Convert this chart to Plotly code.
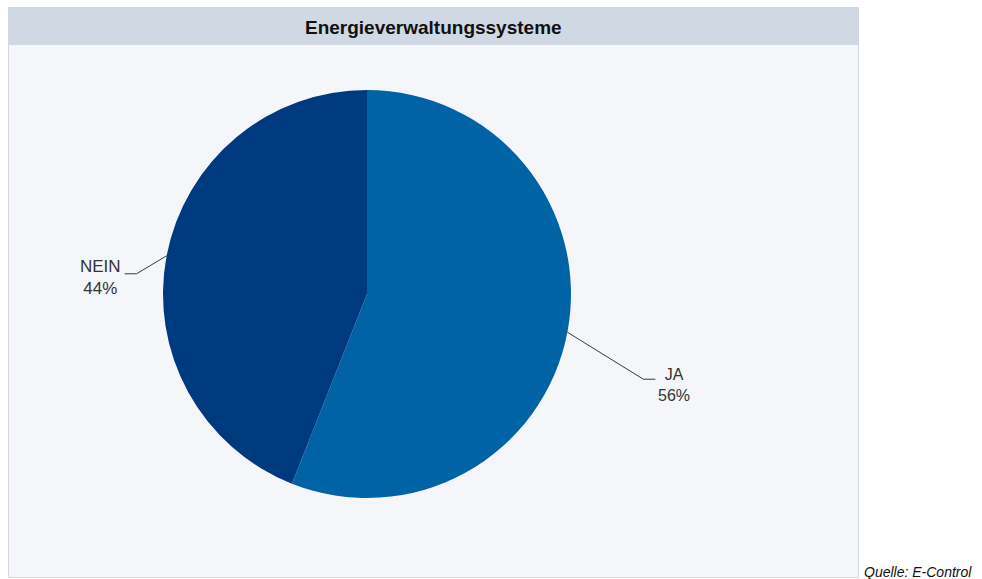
import math
import plotly.graph_objects as go

# Survey result: share of companies with an energy management system
categories = ["JA", "NEIN"]
shares = [56, 44]
colors = ["#0063A6", "#003A7E"]

W, H = 982, 579
CX, CY, R = 367, 294, 204  # pie centre and radius in pixels

fig = go.Figure()

fig.add_trace(go.Pie(
    labels=categories,
    values=shares,
    sort=False,
    direction="clockwise",
    rotation=0,
    marker=dict(colors=colors, line=dict(width=0)),
    textinfo="none",
    hoverinfo="label+percent",
    showlegend=False,
    domain=dict(x=[(CX - R) / W, (CX + R) / W],
                y=[1 - (CY + R) / H, 1 - (CY - R) / H]),
))

# invisible pixel-space axes for the frame, leader lines and labels
fig.update_layout(
    width=W, height=H,
    margin=dict(l=0, r=0, t=0, b=0),
    paper_bgcolor="white", plot_bgcolor="rgba(0,0,0,0)",
    xaxis=dict(range=[0, W], visible=False, fixedrange=True),
    yaxis=dict(range=[H, 0], visible=False, fixedrange=True),
    font=dict(family="Liberation Sans, Arial, sans-serif", color="#333333"),
)

shapes = [
    dict(type="rect", xref="x", yref="y", x0=8.5, y0=7.5, x1=858.5, y1=577.5,
         fillcolor="#F4F6F9", line=dict(color="#D3D8DF", width=1), layer="below"),
    dict(type="rect", xref="x", yref="y", x0=8.5, y0=7.5, x1=858.5, y1=45,
         fillcolor="#CFD8E3", line=dict(width=0), layer="below"),
]

# leader line elbow offsets and label anchors per slice
elbow = {"JA": (76, 47, 12), "NEIN": (-30, 18, -12)}
annotations = []
total = sum(shares)
cum = 0
for cat, val in zip(categories, shares):
    mid = (cum + val / 2) / total * 2 * math.pi
    cum += val
    ex = CX + R * math.sin(mid)
    ey = CY - R * math.cos(mid)
    dx, dy, hx = elbow[cat]
    bx, by = ex + dx, ey + dy
    tx = bx + hx
    shapes.append(dict(type="path", xref="x", yref="y",
                       path=f"M{ex},{ey} L{bx},{by} L{tx},{by}",
                       line=dict(color="#3A3A3A", width=1)))
    pct = round(val / total * 100)
    if hx > 0:
        annotations.append(dict(x=tx + 1, y=by + 6, xref="x", yref="y",
                                text=f"{cat}<br>{pct}%", showarrow=False,
                                xanchor="left", yanchor="middle", align="center",
                                font=dict(size=16, color="#333333")))
    else:
        annotations.append(dict(x=tx - 2, y=by + 4, xref="x", yref="y",
                                text=f"{cat}<br>{pct}%", showarrow=False,
                                xanchor="right", yanchor="middle", align="center",
                                font=dict(size=17, color="#333333")))

annotations.append(dict(x=433, y=27, xref="x", yref="y",
                        text="<b>Energieverwaltungssysteme</b>", showarrow=False,
                        xanchor="center", yanchor="middle",
                        font=dict(size=19, color="#111111")))
annotations.append(dict(x=862, y=572, xref="x", yref="y",
                        text="<i>Quelle: E-Control</i>", showarrow=False,
                        xanchor="left", yanchor="middle",
                        font=dict(size=14, color="#111111")))

fig.update_layout(shapes=shapes, annotations=annotations)

fig.write_html("out.html")
